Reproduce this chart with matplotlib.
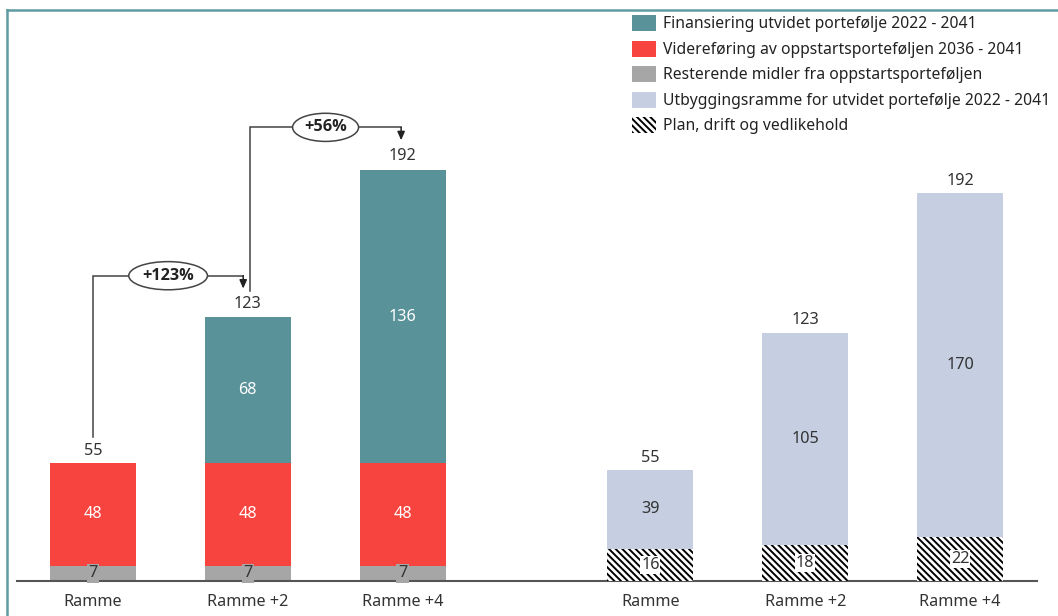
import matplotlib
matplotlib.use("Agg")
import matplotlib.pyplot as plt
from matplotlib.patches import Patch
from matplotlib.lines import Line2D

plt.rcParams['font.family'] = ['Noto Sans', 'DejaVu Sans']
plt.rcParams['hatch.linewidth'] = 1.4

# ---- data ----
categories = ["Ramme", "Ramme +2", "Ramme +4"]
resterende = [7, 7, 7]
videreforing = [48, 48, 48]
finansiering = [0, 68, 136]
totals_left = [55, 123, 192]
pct_changes = ["+123%", "+56%"]

plan_drift = [16, 18, 22]
utbygging = [39, 105, 170]
totals_right = [55, 123, 192]

legend_labels = [
    "Finansiering utvidet portefølje 2022 - 2041",
    "Videreføring av oppstartsporteføljen 2036 - 2041",
    "Resterende midler fra oppstartsporteføljen",
    "Utbyggingsramme for utvidet portefølje 2022 - 2041",
    "Plan, drift og vedlikehold",
]

# ---- styles ----
C_TEAL = "#5a9299"
C_RED = "#f7443e"
C_GREY = "#a6a6a6"
C_LBLUE = "#c5cfe1"
C_TXT = "#333333"
C_FRAME = "#5f9ca2"
FS = 11.7
HATCH = "\\" * 5

W, H = 1058, 616
fig = plt.figure(figsize=(W / 100, H / 100), dpi=100)

# frame lines (figure decoration)
fig.add_artist(Line2D([7 / W, 1.0], [1 - 10 / H, 1 - 10 / H], color=C_FRAME, lw=1.8,
                      transform=fig.transFigure))
fig.add_artist(Line2D([7 / W, 7 / W], [0, 1 - 10 / H], color=C_FRAME, lw=1.8,
                      transform=fig.transFigure))

ax = fig.add_axes([17 / W, 35 / H, (1037 - 17) / W, (581 - 20) / H])
ax2 = ax.twinx()

pos_left = [0, 1, 2]
pos_right = [3.6, 4.6, 5.6]
bw = 0.556

ax.set_xlim(-0.491, 6.097)
ax.set_ylim(0, 561 / 2.15)
ax2.set_ylim(0, 561 / 2.02)

# left stacked bars
ax.bar(pos_left, resterende, bw, color=C_GREY)
ax.bar(pos_left, videreforing, bw, bottom=resterende, color=C_RED)
bottom_fin = [a + b for a, b in zip(resterende, videreforing)]
ax.bar(pos_left, finansiering, bw, bottom=bottom_fin, color=C_TEAL)

for i, x in enumerate(pos_left):
    ax.text(x, resterende[i] / 2, str(resterende[i]), ha="center", va="center",
            fontsize=FS, color=C_TXT,
            bbox=dict(boxstyle="square,pad=0.1", fc=C_GREY, ec="none"))
    ax.text(x, resterende[i] + videreforing[i] / 2, str(videreforing[i]),
            ha="center", va="center", fontsize=FS, color="white")
    if finansiering[i] > 0:
        ax.text(x, bottom_fin[i] + finansiering[i] / 2, str(finansiering[i]),
                ha="center", va="center", fontsize=FS, color="white")
    ax.annotate(str(totals_left[i]), (x, totals_left[i]), xytext=(0, 3),
                textcoords="offset points", ha="center", va="bottom",
                fontsize=FS, color=C_TXT)

# right stacked bars
ax2.bar(pos_right, plan_drift, bw, color="white", edgecolor="black", linewidth=0,
        hatch=HATCH)
ax2.bar(pos_right, utbygging, bw, bottom=plan_drift, color=C_LBLUE)
for i, x in enumerate(pos_right):
    ax2.text(x, plan_drift[i] / 2, str(plan_drift[i]), ha="center", va="center",
             fontsize=FS, color=C_TXT,
             bbox=dict(boxstyle="square,pad=0.05", fc="white", ec="none"))
    ax2.text(x, plan_drift[i] + utbygging[i] / 2, str(utbygging[i]), ha="center",
             va="center", fontsize=FS, color=C_TXT)
    ax2.annotate(str(totals_right[i]), (x, totals_right[i]), xytext=(0, 3),
                 textcoords="offset points", ha="center", va="bottom",
                 fontsize=FS, color=C_TXT)

# growth brackets
for k in range(2):
    x0 = pos_left[k] + (0.0 if k == 0 else 0.014)
    x1 = pos_left[k + 1] - (0.03 if k == 0 else 0.01)
    y_start = totals_left[k] + 12
    y_level = totals_left[k + 1] + 19
    y_end = totals_left[k + 1] + 13
    ax.plot([x0, x0, x1], [y_start, y_level, y_level], color="#444444", lw=1.1,
            solid_joinstyle="miter")
    ax.annotate("", xy=(x1, y_end), xytext=(x1, y_level),
                arrowprops=dict(arrowstyle="-|>,head_length=0.5,head_width=0.22",
                                color="#222222", lw=1.1, shrinkA=0, shrinkB=0))
    ax.text((x0 + x1) / 2, y_level, pct_changes[k], ha="center", va="center",
            fontsize=FS, fontweight="bold", color="#222222",
            family=["Open Sans", "DejaVu Sans"],
            bbox=dict(boxstyle="ellipse,pad=0.12", fc="white", ec="#444444", lw=1.1))

# axes styling
for a in (ax, ax2):
    for s in ("top", "left", "right"):
        a.spines[s].set_visible(False)
    a.set_yticks([])
ax2.spines["bottom"].set_visible(False)
ax.spines["bottom"].set_color("#555555")
ax.spines["bottom"].set_linewidth(1.5)
ax.set_xticks(pos_left + pos_right)
ax.set_xticklabels(categories + categories, fontsize=FS, color=C_TXT)
ax.tick_params(axis="x", length=0, pad=9)

handles = [
    Patch(facecolor=C_TEAL),
    Patch(facecolor=C_RED),
    Patch(facecolor=C_GREY),
    Patch(facecolor=C_LBLUE),
    Patch(facecolor="white", edgecolor="black", linewidth=0, hatch=HATCH),
]
fig.legend(handles, legend_labels, loc="upper left",
           bbox_to_anchor=(632 / W, 1 - 15 / H), frameon=False, fontsize=11.3,
           borderaxespad=0, borderpad=0, handlelength=1.55, handleheight=1.2,
           handletextpad=0.4, labelspacing=0.52, labelcolor="#222222")

fig.savefig("out.png", dpi=100)
